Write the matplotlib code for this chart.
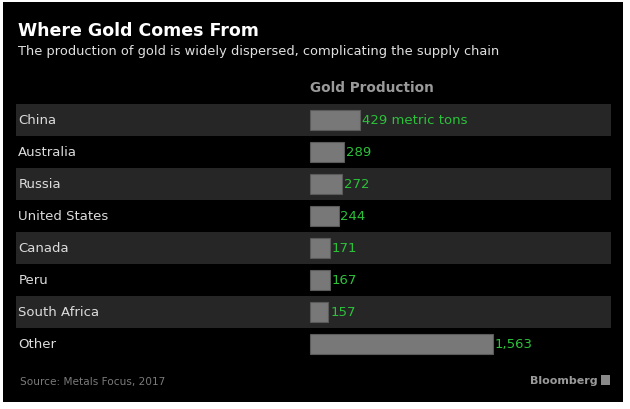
import matplotlib
matplotlib.use("Agg")
import matplotlib.pyplot as plt
from matplotlib.patches import Rectangle
import matplotlib.transforms as mtransforms

categories = ["China", "Australia", "Russia", "United States", "Canada", "Peru", "South Africa", "Other"]
values = [429, 289, 272, 244, 171, 167, 157, 1563]
value_labels = ["429 metric tons", "289", "272", "244", "171", "167", "157", "1,563"]

title = "Where Gold Comes From"
subtitle = "The production of gold is widely dispersed, complicating the supply chain"
col_header = "Gold Production"
source = "Source: Metals Focus, 2017"

plt.rcParams['font.family'] = ["DejaVu Sans"]

W, H = 630, 410
fig = plt.figure(figsize=(W / 100, H / 100), dpi=100)
fig.patch.set_facecolor("white")
fig.patches.append(Rectangle((3 / W, 1 - 403 / H), 620 / W, 400 / H, transform=fig.transFigure,
                             facecolor="black", edgecolor="none", zorder=-5))

def fx(px):
    return px / W

def fy(py):
    return 1 - py / H

left, right, top, bottom = 16, 611, 105, 361
ax = fig.add_axes([fx(left), fy(bottom), (right - left) / W, (bottom - top) / H])
ax.set_zorder(2)
ax.set_facecolor("none")
for s in ax.spines.values():
    s.set_visible(False)
ax.set_xticks([])
ax.set_yticks([])

scale = 183 / 1563  # px per unit
x0_px = 310
xmin = -(x0_px - left) / scale
xmax = (right - x0_px) / scale
ax.set_xlim(xmin, xmax)
n = len(categories)
ax.set_ylim(n - 0.5, -0.5)

for i in range(n):
    if i % 2 == 0:
        ax.axhspan(i - 0.5, i + 0.5, color="#262626", zorder=0, lw=0)

ax.barh(range(n), values, left=0, height=0.62, color="#787878", edgecolor="#5a5a5a", linewidth=0.8, zorder=2)

trans = mtransforms.blended_transform_factory(ax.transAxes, ax.transData)
for i, (c, v, lab) in enumerate(zip(categories, values, value_labels)):
    ax.text(0.004, i, c, transform=trans, ha="left", va="center", color="#dcdcdc", fontsize=9.5)
    ax.text(v + 15, i, lab, ha="left", va="center", color="#2bc23a", fontsize=9.5, zorder=3)

fig.text(fx(18), fy(31), title, ha="left", va="center", color="white", fontsize=12.5, fontweight="bold")
fig.text(fx(18), fy(51), subtitle, ha="left", va="center", color="#e0e0e0", fontsize=9.4)
fig.text(fx(310), fy(88), col_header, ha="left", va="center", color="#9a9a9a", fontsize=9.8, fontweight="bold")
fig.text(fx(20), fy(382), source, ha="left", va="center", color="#7a7a7a", fontsize=7.6)
fig.text(fx(598), fy(381), "Bloomberg", ha="right", va="center", color="#9a9a9a", fontsize=8,
         fontweight="bold")
fig.patches.append(Rectangle((fx(601), fy(386)), 9 / W, 10 / H, transform=fig.transFigure,
                             facecolor="#8a8a8a", edgecolor="none", zorder=3))

fig.savefig("out.png", dpi=100, facecolor=fig.get_facecolor())
